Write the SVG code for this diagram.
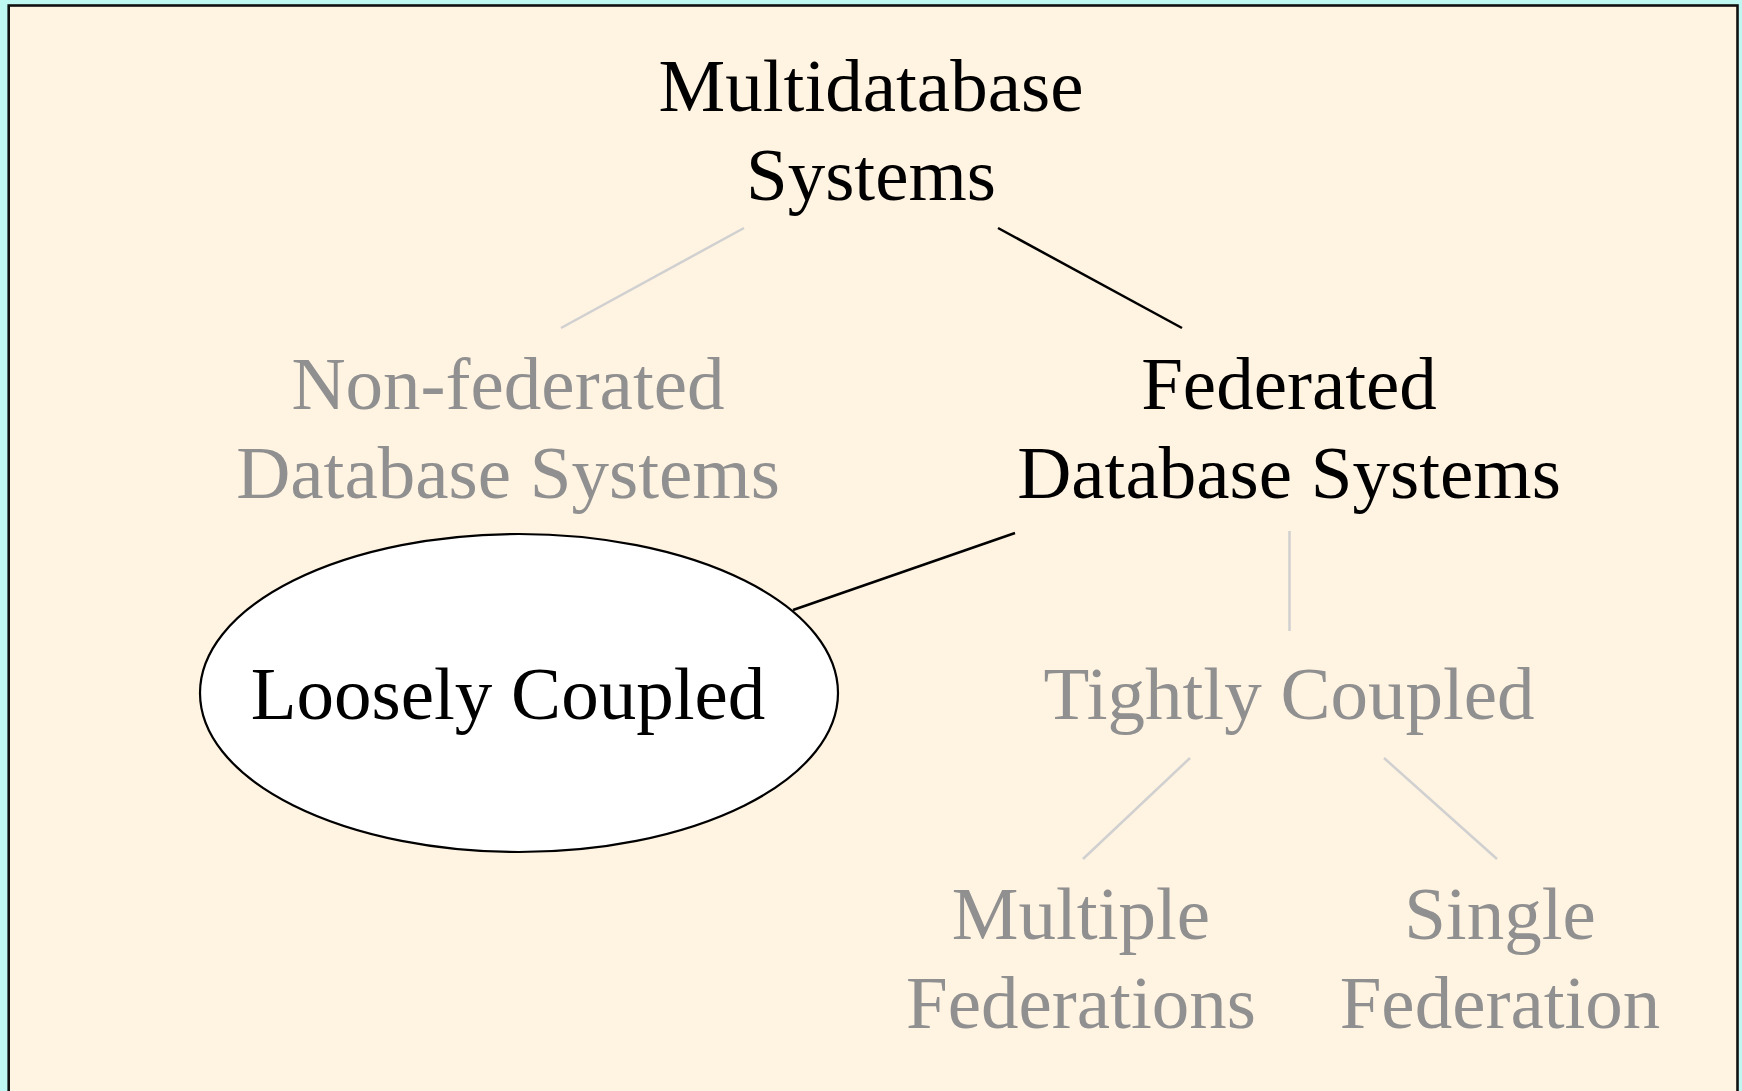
<svg xmlns="http://www.w3.org/2000/svg" width="1742" height="1091" viewBox="0 0 1742 1091">
  <style>
    text { font-family: "Liberation Serif", "Times New Roman", serif; font-size: 75px; text-anchor: middle; }
    .on { fill: #000000; }
    .off { fill: #909090; }
    .eon { stroke: #000000; stroke-width: 2.5; fill: none; }
    .eoff { stroke: #d0d0d0; stroke-width: 2.5; fill: none; }
  </style>
  <rect x="0" y="0" width="1742" height="1091" fill="#bff8f3"/>
  <rect x="8.7" y="5.5" width="1728.8" height="1100" fill="#fff3e2" stroke="#111111" stroke-width="2.6"/>
  <g id="connectors">
    <line class="eoff" x1="744" y1="228" x2="561" y2="328"/>
    <line class="eon" x1="998" y1="228" x2="1182" y2="328"/>
    <line class="eon" x1="1015" y1="533" x2="793" y2="610"/>
    <line class="eoff" x1="1289.5" y1="531" x2="1289.5" y2="631"/>
    <line class="eoff" x1="1190" y1="758" x2="1083" y2="859"/>
    <line class="eoff" x1="1384" y1="758" x2="1497" y2="859"/>
  </g>
  <g id="multidatabase">
    <text class="on" x="871" y="111">Multidatabase</text>
    <text class="on" x="871" y="200">Systems</text>
  </g>
  <g id="nonfederated">
    <text class="off" x="508" y="409">Non-federated</text>
    <text class="off" x="508" y="498">Database Systems</text>
  </g>
  <g id="federated">
    <text class="on" x="1289" y="409">Federated</text>
    <text class="on" x="1289" y="498">Database Systems</text>
  </g>
  <g id="loosely">
    <ellipse cx="519" cy="693" rx="319" ry="159" fill="#ffffff" stroke="#000000" stroke-width="2.2"/>
    <text class="on" x="508" y="719">Loosely Coupled</text>
  </g>
  <g id="tightly">
    <text class="off" x="1289" y="719">Tightly Coupled</text>
  </g>
  <g id="multiple">
    <text class="off" x="1081" y="939">Multiple</text>
    <text class="off" x="1081" y="1028">Federations</text>
  </g>
  <g id="single">
    <text class="off" x="1500" y="939">Single</text>
    <text class="off" x="1500" y="1028">Federation</text>
  </g>
</svg>
